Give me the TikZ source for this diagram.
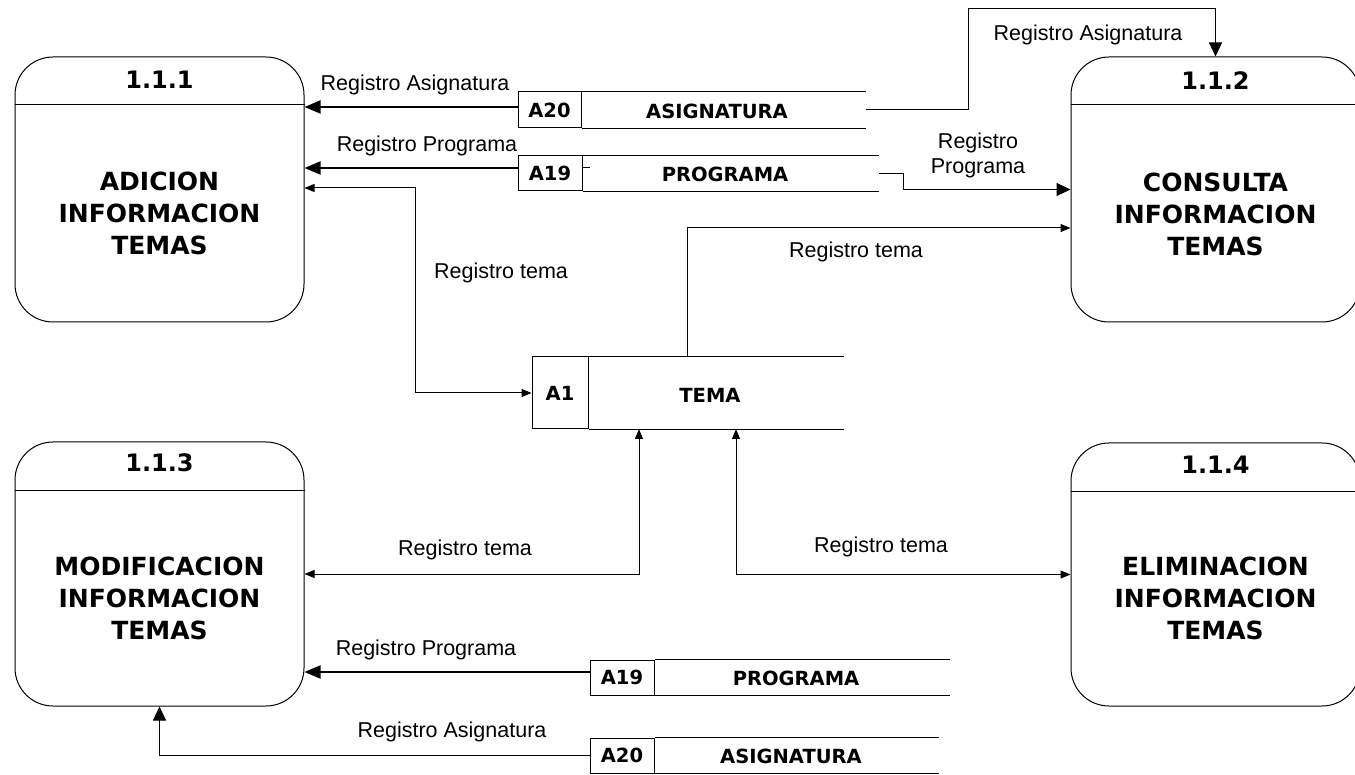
\documentclass[tikz,border=0pt]{standalone}
\usepackage{fontspec}
\setmainfont{Liberation Sans}
\newfontfamily\verd{DejaVu Sans}
\usetikzlibrary{arrows.meta}

\begin{document}
\begin{tikzpicture}[x=1pt,y=-1pt,line width=1pt,
  proc/.style={draw,rounded corners=38pt,minimum width=289pt,inner sep=0pt},
  procnum/.style={font=\verd\bfseries\fontsize{24}{28}\selectfont},
  procname/.style={font=\verd\bfseries\fontsize{25}{32}\selectfont,align=center},
  storeid/.style={draw,inner sep=0pt,font=\verd\bfseries\fontsize{19.5}{22}\selectfont},
  storename/.style={font=\verd\bfseries\fontsize{19.5}{22}\selectfont},
  storeline/.style={line width=1.4pt},
  lbl/.style={font=\fontsize{21.5}{25}\selectfont,align=center},
  bigflow/.style={line width=2pt,-{Triangle[length=16pt,width=13pt]}},
  flow/.style={-{Triangle[length=14pt,width=13pt]}},
  smallflow/.style={-{Triangle[length=10pt,width=8pt]}},
  twoflow/.style={{Triangle[length=10pt,width=8pt]}-{Triangle[length=10pt,width=8pt]}}]
\useasboundingbox (0,0) rectangle (1355,775);
\fill[white] (0,0) rectangle (1355,775);

% processes
\node[proc,minimum height=265pt] (p111) at (159.5,189.5) {};
\node[proc,minimum height=265pt] (p112) at (1215.5,189.5) {};
\node[proc,minimum height=264pt] (p113) at (159.5,574) {};
\node[proc,minimum height=263pt] (p114) at (1215.5,574.5) {};
\foreach \p in {p111,p112,p113,p114} % header line
  \draw ([yshift=-48.5pt]\p.north west) -- ([yshift=-48.5pt]\p.north east);
\node[procnum] (n111) at (159.5,80) {1.1.1};
\node[procnum] (n112) at (1215.5,81) {1.1.2};
\node[procnum] (n113) at (159.5,463) {1.1.3};
\node[procnum] (n114) at (1215.5,465) {1.1.4};
\node[procname] (t111) at (159.5,213) {ADICION\\INFORMACION\\TEMAS};
\node[procname] (t112) at (1215.5,214) {CONSULTA\\INFORMACION\\TEMAS};
\node[procname] (t113) at (159.5,598) {MODIFICACION\\INFORMACION\\TEMAS};
\node[procname] (t114) at (1215.5,598) {ELIMINACION\\INFORMACION\\TEMAS};

% data stores
\node[storeid,minimum width=63pt,minimum height=36pt] (a20t) at (549.5,110) {A20};
\coordinate (a20te) at (866,110);
\node[storename] (a20tn) at (717,111) {ASIGNATURA};
\node[storeid,minimum width=64pt,minimum height=35pt] (a19t) at (550,173.5) {A19};
\coordinate (a19te) at (879,173.5);
\node[storename] (a19tn) at (725,174) {PROGRAMA};
\node[storeid,minimum width=56pt,minimum height=72pt] (a1) at (560,393) {A1};
\coordinate (a1e) at (844,393);
\node[storename] (a1n) at (710,395) {TEMA};
\node[storeid,minimum width=64pt,minimum height=35pt] (a19b) at (622,677.5) {A19};
\coordinate (a19be) at (950,677.5);
\node[storename] (a19bn) at (796,678) {PROGRAMA};
\node[storeid,minimum width=64pt,minimum height=35pt] (a20b) at (622,755.5) {A20};
\coordinate (a20be) at (939,755.5);
\node[storename] (a20bn) at (791,756) {ASIGNATURA};
\foreach \s in {a20t,a19t,a1,a19b,a20b} % open end of each store
  \draw[storeline] (\s.north east) -- (\s.north east -| \s e) (\s.south east) -- (\s.south east -| \s e);
\draw ([yshift=6pt]a19t.east) -- ++(7,0);

% flows
\draw[bigflow] ([yshift=3pt]a20t.west) -- ([yshift=3pt]a20t.west -| p111.east);
\draw[bigflow] ([yshift=5.5pt]a19t.west) -- ([yshift=5.5pt]a19t.west -| p111.east);
\draw[twoflow] ([yshift=1.5pt]p111.east) -| ([xshift=-116pt]a1.west) -- (a1.west);
\draw[flow] (a20te) -- ++(102,0) |- ([yshift=48pt]p112.north) -- (p112.north);
\draw[flow] (a19te) -- ++(24,0) |- (p112.west);
\coordinate (a1up) at (687,357);
\draw[smallflow] (a1up) |- ([yshift=-38.5pt]p112.west);
\coordinate (a1dl) at (639,429);
\coordinate (a1dr) at (736,429);
\draw[twoflow] (p113.east) -| (a1dl);
\draw[twoflow] (a1dr) |- (p114.west);
\draw[bigflow] ([yshift=5.5pt]a19b.west) -- ([yshift=5.5pt]a19b.west -| p113.east);
\draw[flow] (a20b.west) -| (p113.south);

% labels
\node[lbl] (l1) at (415,85) {Registro Asignatura};
\node[lbl] (l2) at (427,146) {Registro Programa};
\node[lbl] (l3) at (501,273) {Registro tema};
\node[lbl] (l4) at (1088,35) {Registro Asignatura};
\node[lbl] (l5) at (978,155) {Registro\\Programa};
\node[lbl] (l6) at (856,252) {Registro tema};
\node[lbl] (l7) at (465,550) {Registro tema};
\node[lbl] (l8) at (881,547) {Registro tema};
\node[lbl] (l9) at (426,650) {Registro Programa};
\node[lbl] (l10) at (452,732) {Registro Asignatura};
\end{tikzpicture}
\end{document}
